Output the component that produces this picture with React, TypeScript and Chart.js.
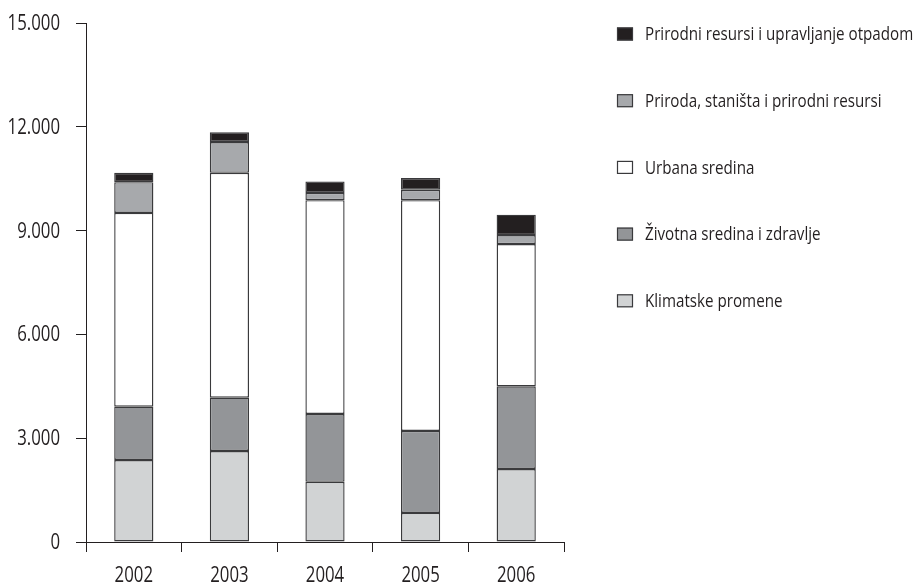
import React, { useEffect, useRef } from "react";
import { Chart, registerables } from "chart.js";

Chart.register(...registerables);

// Years on the x axis
const years = ["2002", "2003", "2004", "2005", "2006"];

// Stacked series, bottom to top
const klimatske = [2370, 2630, 1740, 840, 2110];
const zdravlje = [1540, 1540, 1960, 2370, 2390];
const urbana = [5600, 6500, 6180, 6670, 4110];
const priroda = [890, 890, 210, 300, 260];
const resursi = [270, 280, 330, 340, 590];

const seriesNames = [
  "Klimatske promene",
  "Životna sredina i zdravlje",
  "Urbana sredina",
  "Priroda, staništa i prirodni resursi",
  "Prirodni resursi i upravljanje otpadom",
];

const seriesColors = ["#d1d3d4", "#939598", "#ffffff", "#a7a9ac", "#231f20"];

const yTicks = [0, 3000, 6000, 9000, 12000, 15000];

const FONT = "'Open Sans', 'Noto Sans', sans-serif";
const AXIS_SQUEEZE = 0.8; // horizontal compression for a condensed look
const LEGEND_SQUEEZE = 0.82;
const INK = "#231f20";
const EDGE = "#3a3a3c";

const fmt = (v: number) => String(v).replace(/\B(?=(\d{3})+(?!\d))/g, ".");

// Draws text squeezed horizontally, anchored at (x, y)
function narrowText(
  ctx: CanvasRenderingContext2D,
  text: string,
  x: number,
  y: number,
  align: "left" | "right" | "center",
  squeeze: number
) {
  ctx.save();
  ctx.translate(x, y);
  ctx.scale(squeeze, 1);
  ctx.textAlign = align;
  ctx.fillText(text, 0, 0);
  ctx.restore();
}

// Axis tick labels in condensed type
const axisLabels = {
  id: "axisLabels",
  afterDraw(chart: any) {
    const ctx = chart.ctx;
    const xs = chart.scales.x;
    const ys = chart.scales.y;
    ctx.save();
    ctx.fillStyle = INK;
    ctx.font = `21px ${FONT}`;
    ctx.textBaseline = "middle";
    yTicks.forEach((v) => {
      narrowText(ctx, fmt(v), 60, ys.getPixelForValue(v) + 1, "right", AXIS_SQUEEZE);
    });
    ctx.textBaseline = "alphabetic";
    years.forEach((y, i) => {
      narrowText(ctx, y, xs.getPixelForValue(i), 582, "center", AXIS_SQUEEZE);
    });
    ctx.restore();
  },
};

// Legend drawn as a column on the right, topmost series first
const sideLegend = {
  id: "sideLegend",
  afterDraw(chart: any) {
    const ctx = chart.ctx;
    const sets = chart.data.datasets;
    const x0 = 617;
    const yStart = 34;
    const step = 66.7;
    ctx.save();
    ctx.font = `18.5px ${FONT}`;
    ctx.textBaseline = "middle";
    for (let i = sets.length - 1, row = 0; i >= 0; i--, row++) {
      const ds = sets[i];
      const cy = yStart + row * step;
      ctx.fillStyle = ds.backgroundColor;
      ctx.fillRect(x0, cy - 6.5, 16, 13);
      ctx.strokeStyle = EDGE;
      ctx.lineWidth = 1.2;
      ctx.strokeRect(x0 + 0.5, cy - 6, 15, 12);
      ctx.fillStyle = INK;
      narrowText(ctx, ds.label, 645, cy + 1, "left", LEGEND_SQUEEZE);
    }
    ctx.restore();
  },
};

export default function App() {
  const ref = useRef<HTMLCanvasElement | null>(null);

  useEffect(() => {
    if (!ref.current) return;
    const stacks = [klimatske, zdravlje, urbana, priroda, resursi];
    const chart = new Chart(ref.current, {
      type: "bar",
      data: {
        labels: years,
        datasets: stacks.map((vals, i) => ({
          label: seriesNames[i],
          data: vals,
          backgroundColor: seriesColors[i],
          borderColor: EDGE,
          borderWidth: 1.4,
          borderSkipped: false,
          barPercentage: 0.41,
          categoryPercentage: 1,
        })),
      },
      options: {
        animation: false,
        responsive: false,
        maintainAspectRatio: false,
        layout: { padding: { left: 0, right: 355, top: 23, bottom: 0 } },
        plugins: {
          legend: { display: false },
          tooltip: { enabled: false },
        },
        scales: {
          x: {
            stacked: true,
            offset: true,
            grid: {
              offset: true,
              drawOnChartArea: false,
              drawTicks: true,
              tickLength: 10,
              color: INK,
              lineWidth: 1,
            },
            border: { display: true, color: INK, width: 1 },
            ticks: { display: false },
            afterFit(scale: any) {
              scale.height = 41;
            },
          },
          y: {
            stacked: true,
            min: 0,
            max: 15000,
            afterBuildTicks(scale: any) {
              scale.ticks = yTicks.map((v) => ({ value: v }));
            },
            grid: {
              drawOnChartArea: false,
              drawTicks: true,
              tickLength: 10,
              color: INK,
              lineWidth: 1,
            },
            border: { display: true, color: INK, width: 1 },
            ticks: { display: false },
            afterFit(scale: any) {
              scale.width = 86;
            },
          },
        },
      },
      plugins: [axisLabels, sideLegend],
    });
    return () => chart.destroy();
  }, []);

  return (
    <div style={{ position: "fixed", left: 0, top: 0, width: 919, height: 583, background: "#ffffff" }}>
      <canvas ref={ref} width={919} height={583} style={{ display: "block" }} />
    </div>
  );
}
